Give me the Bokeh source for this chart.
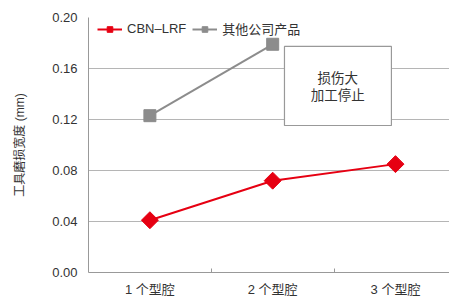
import math
from bokeh.plotting import figure
from bokeh.models import FixedTicker, Legend, LegendItem
from bokeh.core.properties import value
from bokeh.embed import file_html
from bokeh.resources import INLINE

categories = ["1 个型腔", "2 个型腔", "3 个型腔"]
cbn_x = [1, 2, 3]
cbn_vals = [0.041, 0.072, 0.085]
other_x = [1, 2]
other_vals = [0.123, 0.179]
y_ticks = [0.00, 0.04, 0.08, 0.12, 0.16, 0.20]
note_lines = ["损伤大", "加工停止"]
note_x = [2.53, 2.53]
note_y = [0.1525, 0.1385]
box_left, box_right, box_bottom, box_top = 2.096, 2.967, 0.1153, 0.1773

FONT = "Liberation Sans, Noto Sans CJK SC"
RED = "#e60012"
GRAY = "#8c8c8c"

p = figure(width=449, height=300, output_backend="svg", toolbar_location=None,
           x_range=(0.5, 3.44), y_range=(0.0, 0.20))
p.min_border_left = 88
p.min_border_right = 0
p.min_border_top = 17
p.min_border_bottom = 28
p.outline_line_color = None
p.background_fill_color = "white"

p.xaxis.ticker = FixedTicker(ticks=[1, 2, 3], minor_ticks=[1.5, 2.5])
p.xaxis.major_label_overrides = {i + 1: c for i, c in enumerate(categories)}
p.xaxis.major_tick_line_color = None
p.xaxis.major_tick_in = 0
p.xaxis.major_tick_out = 0
p.xaxis.minor_tick_in = 4
p.xaxis.minor_tick_out = 0
p.xaxis.minor_tick_line_color = "#999999"
p.xaxis.axis_line_color = "#999999"
p.xaxis.major_label_text_font = FONT
p.xaxis.major_label_text_font_size = "13px"
p.xaxis.major_label_text_color = "#333333"
p.xaxis.major_label_standoff = 9

p.yaxis.ticker = FixedTicker(ticks=y_ticks)
p.yaxis.major_label_overrides = {t: f"{t:.2f}" for t in y_ticks}
p.yaxis.major_tick_line_color = None
p.yaxis.major_tick_in = 0
p.yaxis.major_tick_out = 0
p.yaxis.minor_tick_line_color = None
p.yaxis.axis_line_color = "#999999"
p.yaxis.major_label_text_font = FONT
p.yaxis.major_label_text_font_size = "13px"
p.yaxis.major_label_text_color = "#333333"
p.yaxis.major_label_standoff = 11
p.yaxis.axis_label = "工具磨损宽度 (mm)"
p.yaxis.axis_label_text_font = FONT
p.yaxis.axis_label_text_font_size = "12px"
p.yaxis.axis_label_text_font_style = "normal"
p.yaxis.axis_label_text_color = "#333333"
p.yaxis.axis_label_standoff = 22

p.xgrid.grid_line_color = None
p.ygrid.grid_line_color = "#b5b5b5"
p.ygrid.grid_line_width = 1

gl = p.line(other_x, other_vals, line_color=GRAY, line_width=2)
gm = p.scatter(other_x, other_vals, marker="square", size=12, fill_color=GRAY, line_color=GRAY)
rl = p.line(cbn_x, cbn_vals, line_color=RED, line_width=2)
rm = p.scatter(cbn_x, cbn_vals, marker="square", size=12, angle=math.pi / 4,
               fill_color=RED, line_color=RED)

p.quad(left=[box_left], right=[box_right], bottom=[box_bottom], top=[box_top],
       fill_color="white", line_color="#999999", line_width=1.2)
p.text(x=note_x, y=note_y, text=note_lines, text_align="center", text_baseline="middle",
       text_font=value(FONT), text_font_size="13.5px", text_color="#333333")

legend = Legend(items=[LegendItem(label="CBN–LRF", renderers=[rl, rm]),
                       LegendItem(label="其他公司产品", renderers=[gl, gm])],
                orientation="horizontal", location=(9, 234))
legend.border_line_color = None
legend.background_fill_alpha = 0
legend.label_text_font = FONT
legend.label_text_font_size = "13px"
legend.label_text_color = "#333333"
legend.glyph_width = 25
legend.glyph_height = 14
legend.label_standoff = 5
legend.spacing = 6
legend.margin = 0
legend.padding = 4
p.add_layout(legend, "center")

open("out.html", "w").write(file_html(p, INLINE))
